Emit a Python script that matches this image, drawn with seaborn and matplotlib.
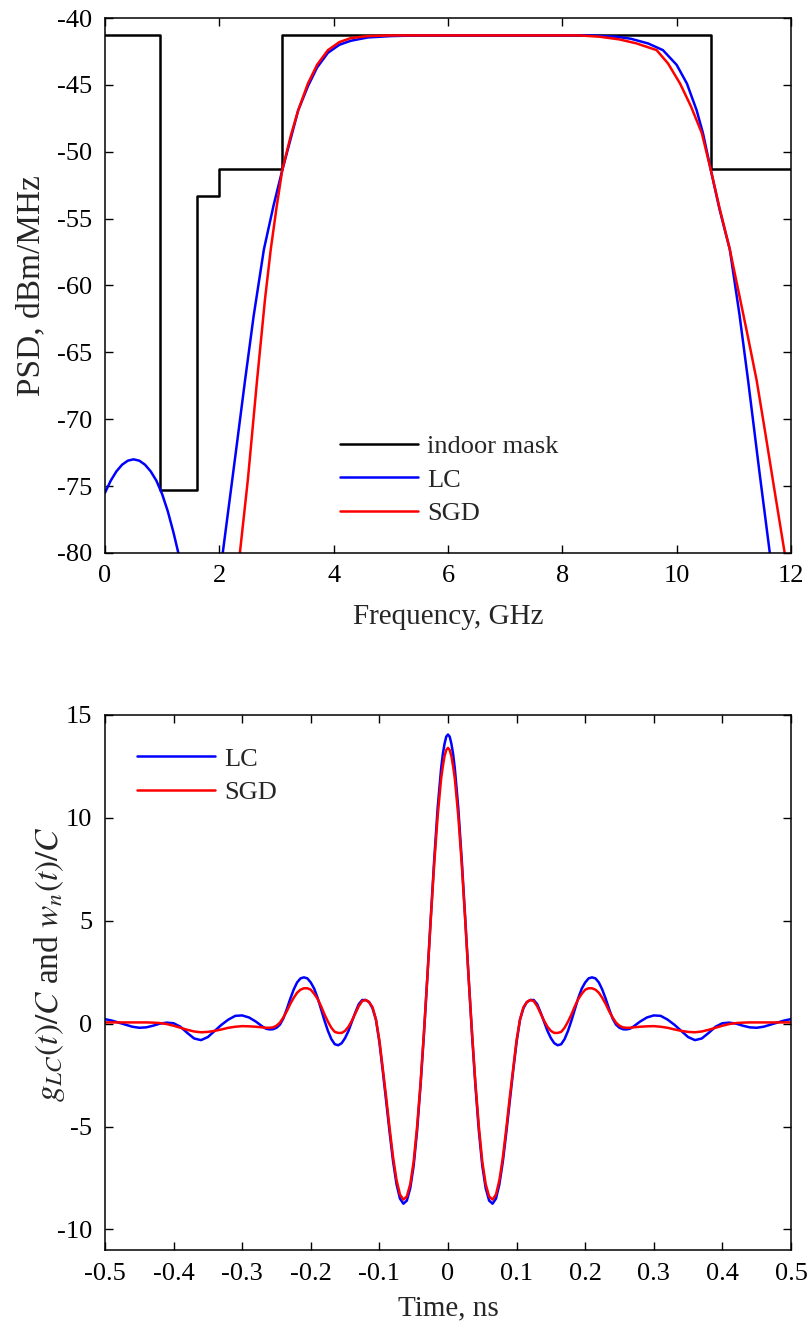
import numpy as np
import matplotlib
matplotlib.use('Agg')
import matplotlib.pyplot as plt
import seaborn as sns
from matplotlib.lines import Line2D

# ---------------- Top panel data (PSD, dBm/MHz vs frequency, GHz) ----------------
mask_edges = [0.0, 0.96, 1.61, 1.99, 3.1, 10.6, 12.0]
mask_levels = [-41.3, -75.3, -53.3, -51.3, -41.3, -51.3]

lc_lobe_f = [0.0, 0.1, 0.2, 0.3, 0.4, 0.5, 0.6, 0.7, 0.8, 0.9, 1.0, 1.1, 1.2, 1.3, 1.35]
lc_lobe_psd = [-75.5, -74.6, -73.9, -73.4, -73.1, -73.0, -73.1, -73.4, -73.9, -74.6,
               -75.6, -76.9, -78.5, -80.3, -81.3]

lc_main_f = [2.00, 2.06, 2.20, 2.30, 2.45, 2.60, 2.78, 2.95, 3.10, 3.25, 3.38, 3.55,
             3.71, 3.90, 4.10, 4.30, 4.60, 5.00, 5.50, 6.00, 7.00, 8.00, 8.50, 8.95,
             9.20, 9.50, 9.76, 10.00, 10.18, 10.35, 10.46, 10.60, 10.75, 10.93, 11.10,
             11.25, 11.45, 11.63, 11.70]
lc_main_psd = [-81.8, -80.0, -75.4, -72.1, -67.1, -62.3, -57.3, -54.0, -51.4, -49.0,
               -46.9, -45.1, -43.7, -42.6, -42.0, -41.7, -41.45, -41.35, -41.3, -41.3,
               -41.3, -41.3, -41.3, -41.4, -41.55, -41.9, -42.4, -43.5, -44.9, -46.9,
               -48.6, -51.4, -54.3, -57.3, -62.2, -67.1, -74.0, -80.0, -82.4]

sgd_f = [2.30, 2.36, 2.50, 2.66, 2.80, 2.90, 3.00, 3.10, 3.25, 3.38, 3.55, 3.71, 3.90,
         4.10, 4.30, 4.60, 5.00, 5.50, 6.00, 7.00, 8.00, 8.30, 8.66, 9.00, 9.30, 9.65,
         9.85, 10.06, 10.25, 10.44, 10.60, 10.75, 10.93, 11.10, 11.25, 11.40, 11.55,
         11.70, 11.89, 11.95]
sgd_psd = [-82.2, -80.0, -74.5, -67.1, -61.0, -57.3, -54.2, -51.4, -48.8, -46.9, -44.9,
           -43.5, -42.4, -41.8, -41.5, -41.35, -41.3, -41.3, -41.3, -41.3, -41.3, -41.3,
           -41.4, -41.6, -41.9, -42.4, -43.4, -44.9, -46.6, -48.6, -51.4, -54.2, -57.3,
           -60.8, -63.9, -67.1, -71.0, -75.0, -80.0, -81.6]

# ---------------- Bottom panel data (pulse vs time, ns); read for t >= 0, pulse is even ----------------
t_half = [0.000, 0.0025, 0.005, 0.0075, 0.010, 0.015, 0.020, 0.025, 0.030, 0.035, 0.040,
          0.045, 0.050, 0.055, 0.060, 0.065, 0.070, 0.075, 0.080, 0.085, 0.090, 0.095,
          0.100, 0.105, 0.110, 0.115, 0.120, 0.125, 0.130, 0.135, 0.140, 0.145, 0.150,
          0.155, 0.160, 0.165, 0.170, 0.175, 0.180, 0.185, 0.190, 0.195, 0.200, 0.205,
          0.210, 0.215, 0.220, 0.225, 0.230, 0.235, 0.240, 0.245, 0.250, 0.255, 0.260,
          0.265, 0.270, 0.280, 0.290, 0.300, 0.310, 0.320, 0.330, 0.340, 0.350, 0.360,
          0.370, 0.380, 0.390, 0.400, 0.410, 0.420, 0.430, 0.440, 0.450, 0.460, 0.470,
          0.480, 0.490, 0.500]
lc_half = [14.05, 13.95, 13.6, 13.1, 12.4, 10.5, 8.0, 5.2, 2.3, -0.5, -3.0,
           -5.2, -6.9, -8.0, -8.6, -8.75, -8.5, -7.8, -6.7, -5.3, -3.8, -2.3,
           -0.9, 0.2, 0.75, 1.05, 1.15, 1.15, 0.95, 0.55, 0.1, -0.35, -0.7,
           -0.95, -1.05, -1.0, -0.75, -0.35, 0.15, 0.7, 1.25, 1.7, 2.0, 2.2,
           2.25, 2.2, 2.0, 1.65, 1.2, 0.7, 0.25, -0.05, -0.2, -0.27, -0.28,
           -0.25, -0.15, 0.1, 0.3, 0.4, 0.38, 0.2, -0.05, -0.35, -0.65, -0.8,
           -0.72, -0.45, -0.15, 0.02, 0.05, 0.0, -0.1, -0.18, -0.2, -0.15, -0.05,
           0.05, 0.15, 0.22]
sgd_half = [13.4, 13.3, 13.0, 12.5, 11.9, 10.1, 7.8, 5.1, 2.3, -0.4, -2.9,
            -5.0, -6.7, -7.8, -8.4, -8.55, -8.3, -7.6, -6.5, -5.1, -3.6, -2.2,
            -0.8, 0.2, 0.8, 1.05, 1.15, 1.1, 0.85, 0.5, 0.15, -0.15, -0.35,
            -0.45, -0.45, -0.4, -0.2, 0.1, 0.45, 0.85, 1.2, 1.45, 1.65, 1.72,
            1.72, 1.65, 1.5, 1.25, 0.95, 0.6, 0.3, 0.05, -0.1, -0.18, -0.2,
            -0.2, -0.18, -0.15, -0.13, -0.12, -0.15, -0.2, -0.28, -0.35, -0.4, -0.42,
            -0.38, -0.3, -0.2, -0.1, -0.02, 0.03, 0.05, 0.06, 0.06, 0.06, 0.06,
            0.06, 0.06, 0.06]

t_full = [-v for v in t_half[:0:-1]] + t_half
lc_full = lc_half[:0:-1] + lc_half
sgd_full = sgd_half[:0:-1] + sgd_half

top_xticks = [0, 2, 4, 6, 8, 10, 12]
top_yticks = [-80, -75, -70, -65, -60, -55, -50, -45, -40]
bot_xticks = [-0.5, -0.4, -0.3, -0.2, -0.1, 0, 0.1, 0.2, 0.3, 0.4, 0.5]
bot_xlabels = ['-0.5', '-0.4', '-0.3', '-0.2', '-0.1', '0', '0.1', '0.2', '0.3', '0.4', '0.5']
bot_yticks = [-10, -5, 0, 5, 10, 15]

# ---------------- Style ----------------
sns.set_style('ticks')
plt.rcParams['font.family'] = ['Liberation Serif', 'DejaVu Serif']
plt.rcParams['mathtext.fontset'] = 'stix'
plt.rcParams['axes.unicode_minus'] = False
plt.rcParams['font.size'] = 19

BLUE = '#0000ff'
RED = '#ff0000'
BLACK = '#000000'
LW = 1.8
TICK_FS = 19
XLAB_FS = 21
YLAB_FS = 24
LEG_FS = 19

fig = plt.figure(figsize=(8.1, 13.26), dpi=100)
ax1 = fig.add_axes([0.1296, 0.583, 0.8469, 0.4034])
ax2 = fig.add_axes([0.1296, 0.0573, 0.8469, 0.4035])

# Top panel
sns.lineplot(x=mask_edges, y=mask_levels + [mask_levels[-1]], ax=ax1, color=BLACK, lw=LW,
             drawstyle='steps-post', estimator=None, sort=False, legend=False)
sns.lineplot(x=lc_lobe_f, y=lc_lobe_psd, ax=ax1, color=BLUE, lw=LW,
             estimator=None, sort=False, legend=False)
sns.lineplot(x=lc_main_f, y=lc_main_psd, ax=ax1, color=BLUE, lw=LW,
             estimator=None, sort=False, legend=False)
sns.lineplot(x=sgd_f, y=sgd_psd, ax=ax1, color=RED, lw=LW,
             estimator=None, sort=False, legend=False)
ax1.set_xlim(0, 12)
ax1.set_ylim(-80, -40)
ax1.set_xticks(top_xticks)
ax1.set_xticklabels([str(v) for v in top_xticks])
ax1.set_yticks(top_yticks)
ax1.set_yticklabels([str(v) for v in top_yticks])
ax1.set_xlabel('Frequency, GHz', fontsize=XLAB_FS, labelpad=12)
ax1.set_ylabel('PSD, dBm/MHz', fontsize=YLAB_FS)
ax1.yaxis.set_label_coords(-0.085, 0.5)
h1 = [Line2D([], [], color=BLACK, lw=LW), Line2D([], [], color=BLUE, lw=LW),
      Line2D([], [], color=RED, lw=LW)]
ax1.legend(h1, ['indoor mask', 'LC', 'SGD'], loc='upper left',
           bbox_to_anchor=(0.3426, 0.221), frameon=False, fontsize=LEG_FS,
           handlelength=2.95, handletextpad=0.34, labelspacing=0.38,
           borderpad=0, borderaxespad=0)

# Bottom panel
sns.lineplot(x=t_full, y=lc_full, ax=ax2, color=BLUE, lw=LW,
             estimator=None, sort=False, legend=False)
sns.lineplot(x=t_full, y=sgd_full, ax=ax2, color=RED, lw=LW,
             estimator=None, sort=False, legend=False)
ax2.set_xlim(-0.5, 0.5)
ax2.set_ylim(-11, 15)
ax2.set_xticks(bot_xticks)
ax2.set_xticklabels(bot_xlabels)
ax2.set_yticks(bot_yticks)
ax2.set_yticklabels([str(v) for v in bot_yticks])
ax2.set_xlabel('Time, ns', fontsize=XLAB_FS, labelpad=8)
ax2.set_ylabel(r'$g_{LC}(t)/C$ and $w_n(t)/C$', fontsize=YLAB_FS)
ax2.yaxis.set_label_coords(-0.056, 0.535)
h2 = [Line2D([], [], color=BLUE, lw=LW), Line2D([], [], color=RED, lw=LW)]
ax2.legend(h2, ['LC', 'SGD'], loc='upper left',
           bbox_to_anchor=(0.0466, 0.94), frameon=False, fontsize=LEG_FS,
           handlelength=2.95, handletextpad=0.34, labelspacing=0.38,
           borderpad=0, borderaxespad=0)

for ax in (ax1, ax2):
    for s in ax.spines.values():
        s.set_visible(True)
        s.set_color(BLACK)
        s.set_linewidth(1.1)
    ax.tick_params(direction='in', top=True, right=True, length=6, width=1.0,
                   labelsize=TICK_FS, pad=9, colors=BLACK)
    ax.set_facecolor('white')

fig.patch.set_facecolor('white')
fig.savefig('out.png', dpi=100, facecolor='white')
